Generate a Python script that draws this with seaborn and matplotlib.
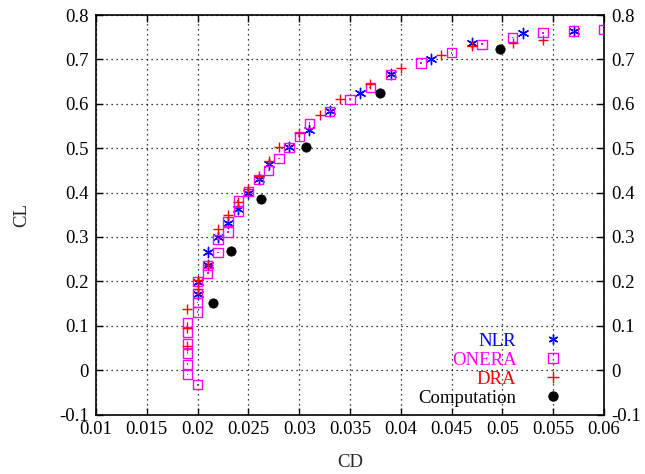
import matplotlib
matplotlib.use("Agg")
import matplotlib.pyplot as plt
import seaborn as sns
from matplotlib.lines import Line2D

# NLR data
nlr_cd = [0.020, 0.020, 0.021, 0.021, 0.022, 0.023, 0.024, 0.025, 0.026, 0.027,
          0.029, 0.031, 0.033, 0.036, 0.039, 0.043, 0.047, 0.052, 0.057]
nlr_cl = [0.171, 0.199, 0.236, 0.266, 0.299, 0.332, 0.362, 0.398, 0.430, 0.465,
          0.502, 0.542, 0.583, 0.625, 0.666, 0.702, 0.737, 0.760, 0.764]

# ONERA data
onera_cd = [0.019, 0.019, 0.019, 0.019, 0.019, 0.019, 0.020, 0.020, 0.020, 0.020,
            0.020, 0.021, 0.021, 0.022, 0.022, 0.023, 0.023, 0.024, 0.024, 0.025,
            0.026, 0.027, 0.028, 0.029, 0.030, 0.031, 0.033, 0.035, 0.037, 0.039,
            0.042, 0.045, 0.048, 0.051, 0.054, 0.057, 0.060]
onera_cl = [-0.010, 0.013, 0.038, 0.060, 0.086, 0.106, -0.033, 0.131, 0.152, 0.173,
            0.199, 0.219, 0.236, 0.265, 0.295, 0.311, 0.335, 0.357, 0.381, 0.402,
            0.430, 0.450, 0.477, 0.502, 0.527, 0.556, 0.583, 0.610, 0.637, 0.666,
            0.692, 0.715, 0.734, 0.749, 0.760, 0.764, 0.767]

# DRA data
dra_cd = [0.019, 0.019, 0.019, 0.020, 0.020, 0.021, 0.022, 0.023, 0.024, 0.025,
          0.026, 0.027, 0.028, 0.030, 0.032, 0.034, 0.037, 0.040, 0.044, 0.047,
          0.051, 0.054]
dra_cl = [0.054, 0.095, 0.137, 0.183, 0.203, 0.236, 0.319, 0.349, 0.378, 0.408,
          0.438, 0.470, 0.502, 0.535, 0.574, 0.610, 0.644, 0.680, 0.709, 0.731,
          0.738, 0.743]

# Computation data
comp_cd = [0.0215, 0.0233, 0.0262, 0.0307, 0.0380, 0.0498]
comp_cl = [0.152, 0.269, 0.385, 0.503, 0.625, 0.723]

x_ticks = [0.01, 0.015, 0.02, 0.025, 0.03, 0.035, 0.04, 0.045, 0.05, 0.055, 0.06]
y_ticks = [-0.1, 0, 0.1, 0.2, 0.3, 0.4, 0.5, 0.6, 0.7, 0.8]

sns.set_style("ticks")
plt.rcParams['font.family'] = ['Liberation Serif', 'DejaVu Serif']

FS = 13.5

fig = plt.figure(figsize=(6.45, 4.74), dpi=100)
ax = fig.add_axes([96/645, 1 - 414.5/474, (604-96)/645, (414.5-15)/474])

BLUE = '#0000ff'
MAG = '#ff00ff'
RED = '#ff0000'

asterisk = (6, 2, 0)
sns.scatterplot(x=nlr_cd, y=nlr_cl, marker=asterisk, s=55, color=BLUE,
                edgecolor=BLUE, linewidth=1.0, ax=ax, zorder=3)
sns.scatterplot(x=onera_cd, y=onera_cl, marker='s', s=45, facecolor='none',
                edgecolor=MAG, linewidth=1.0, ax=ax, zorder=3)
sns.scatterplot(x=onera_cd, y=onera_cl, marker='s', s=1.5, color=MAG,
                edgecolor='none', ax=ax, zorder=3)
sns.scatterplot(x=dra_cd, y=dra_cl, marker='+', s=60, color=RED,
                linewidth=1.0, ax=ax, zorder=3)
sns.scatterplot(x=comp_cd, y=comp_cl, marker='o', s=45, color='black',
                edgecolor='black', ax=ax, zorder=3)

ax.set_xlim(0.01, 0.06)
ax.set_ylim(-0.1, 0.8)
ax.set_xticks(x_ticks)
ax.set_xticklabels([f"{v:g}" for v in x_ticks])
ax.set_yticks(y_ticks)
ax.set_yticklabels([f"{v:g}" for v in y_ticks])

ax.grid(True, linestyle=(0, (1, 3)), color='black', linewidth=0.9)
ax.set_axisbelow(True)
for sp in ax.spines.values():
    sp.set_linewidth(1.2)
    sp.set_color('black')
ax.tick_params(direction='in', length=5, width=1, top=True, right=True,
               labelright=True, labelsize=FS, colors='black', pad=5)

ax.set_xlabel('CD', fontsize=FS, labelpad=11)
ax.set_ylabel('CL', fontsize=FS, labelpad=21)

handles = [
    Line2D([], [], linestyle='none', marker=asterisk, color=BLUE, markersize=7, markeredgewidth=1.0),
    Line2D([], [], linestyle='none', marker='s', markerfacecolor='none', markeredgecolor=MAG, markersize=6.5, markeredgewidth=1.0),
    Line2D([], [], linestyle='none', marker='+', color=RED, markersize=8, markeredgewidth=1.0),
    Line2D([], [], linestyle='none', marker='o', color='black', markersize=6.5),
]
labels = ['NLR', 'ONERA', 'DRA', 'Computation']
leg = ax.legend(handles, labels, loc='lower right', bbox_to_anchor=(0.942, 0.0),
                markerfirst=False, frameon=False, fontsize=FS,
                labelspacing=0.1, handletextpad=1.2, handlelength=1.5,
                borderaxespad=0.0,
                labelcolor=[BLUE, MAG, RED, 'black'])

fig.savefig('out.png', dpi=100)
